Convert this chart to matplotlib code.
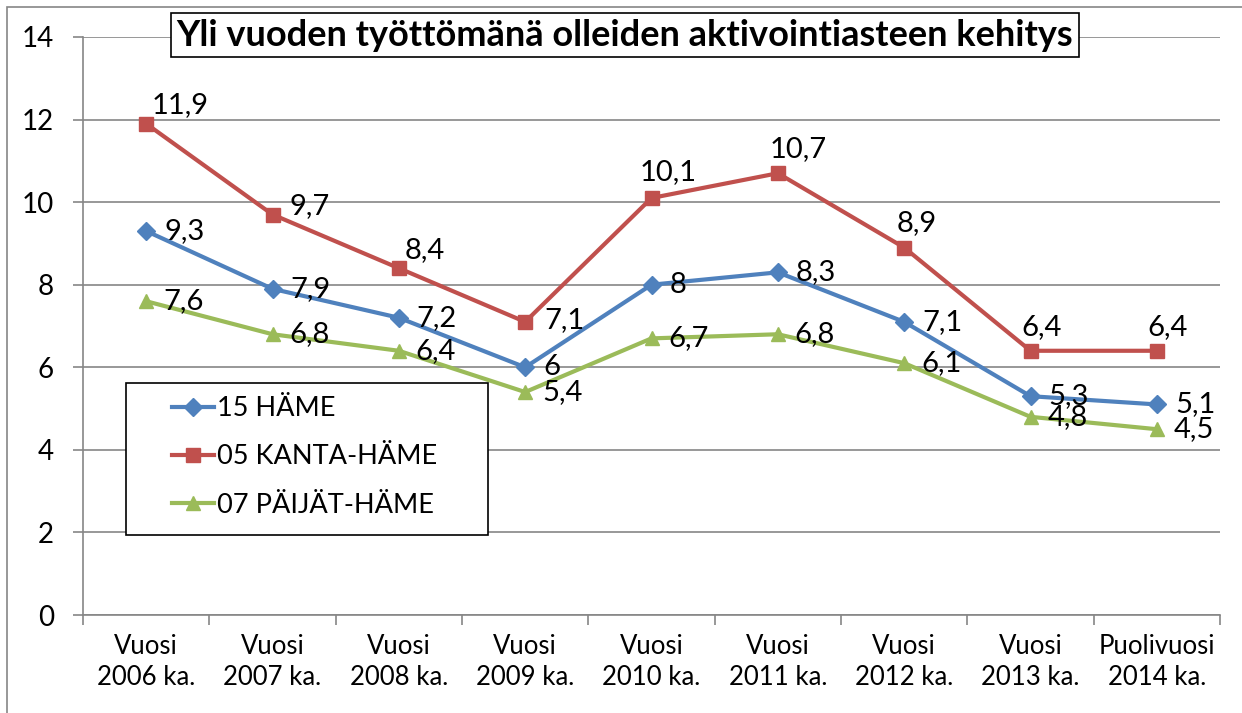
import matplotlib
matplotlib.use("Agg")
from matplotlib import pyplot as plt
from matplotlib.patches import Rectangle
import numpy as np

plt.rcParams['font.family'] = ['Lato', 'DejaVu Sans']

categories = ["Vuosi\n2006 ka.", "Vuosi\n2007 ka.", "Vuosi\n2008 ka.", "Vuosi\n2009 ka.",
              "Vuosi\n2010 ka.", "Vuosi\n2011 ka.", "Vuosi\n2012 ka.", "Vuosi\n2013 ka.",
              "Puolivuosi\n2014 ka."]
hame = [9.3, 7.9, 7.2, 6.0, 8.0, 8.3, 7.1, 5.3, 5.1]
kanta_hame = [11.9, 9.7, 8.4, 7.1, 10.1, 10.7, 8.9, 6.4, 6.4]
paijat_hame = [7.6, 6.8, 6.4, 5.4, 6.7, 6.8, 6.1, 4.8, 4.5]
yticks = [0, 2, 4, 6, 8, 10, 12, 14]
title = "Yli vuoden työttömänä olleiden aktivointiasteen kehitys"

# label offsets in pixels (dx to left edge, dy to centre)
red_offsets = [(5, 19), (17, 8), (6, 18), (19, 2), (-12, 26), (-8, 24), (-8, 25), (-9, 24), (-9, 24)]

W, H = 1242, 713
fig = plt.figure(figsize=(W / 100, H / 100), dpi=100)
ax = fig.add_axes([83 / W, 1 - 615 / H, (1220 - 83) / W, (615 - 37) / H])

grey = '#868686'
fs = 21
x = np.arange(len(categories))

series = [
    (hame, '15 HÄME', '#4F81BD', 'D', 9),
    (kanta_hame, '05 KANTA-HÄME', '#C0504D', 's', 9.5),
    (paijat_hame, '07 PÄIJÄT-HÄME', '#9BBB59', '^', 10.5),
]
for vals, name, col, mk, ms in series:
    ax.plot(x, vals, color=col, lw=3, marker=mk, ms=ms, label=name, zorder=3)

def fmt(v):
    s = ('%.1f' % v).rstrip('0').rstrip('.')
    return s.replace('.', ',')

px = 72 / 100
for i, v in enumerate(hame):
    ax.annotate(fmt(v), (x[i], v), xytext=(18 * px, 0), textcoords='offset points',
                ha='left', va='center', fontsize=fs, zorder=4)
for i, v in enumerate(paijat_hame):
    ax.annotate(fmt(v), (x[i], v), xytext=(17 * px, 0), textcoords='offset points',
                ha='left', va='center', fontsize=fs, zorder=4)
for i, v in enumerate(kanta_hame):
    dx, dy = red_offsets[i]
    ax.annotate(fmt(v), (x[i], v), xytext=(dx * px, dy * px), textcoords='offset points',
                ha='left', va='center', fontsize=fs, zorder=4)

ax.set_xlim(-0.5, len(categories) - 0.5)
ax.set_ylim(0, 14)
ax.set_yticks(yticks)
ax.set_yticklabels([str(t) for t in yticks], fontsize=20)
ax.set_xticks(x)
ax.set_xticklabels(categories, fontsize=18.5, linespacing=1.3)
ax.set_xticks(np.arange(-0.5, len(categories)), minor=True)
ax.tick_params(axis='x', which='major', length=0, pad=14)
ax.tick_params(axis='x', which='minor', length=7, color=grey, width=1.2)
ax.tick_params(axis='y', length=7, color=grey, width=1.2, pad=14)
ax.grid(axis='y', color=grey, lw=1.2)
ax.set_axisbelow(True)
for s in ['top', 'right']:
    ax.spines[s].set_visible(False)
for s in ['left', 'bottom']:
    ax.spines[s].set_color(grey)
    ax.spines[s].set_linewidth(1.2)

# legend box drawn separately so the entries can sit with a wide left margin
fig.patches.append(Rectangle((126 / W, 1 - 535 / H), (488 - 126) / W, (535 - 383) / H,
                             transform=fig.transFigure, fc='white', ec='black', lw=1.2, zorder=4))
leg = fig.legend(loc='upper left', bbox_to_anchor=(172 / W, 1 - 396 / H),
                 fontsize=19.5, frameon=False, handlelength=1.55, handletextpad=0.12,
                 labelspacing=0.86, borderpad=0, borderaxespad=0)
leg.set_zorder(5)

fig.text(625 / W, 1 - 35 / H, title, ha='center', va='center', fontsize=26, fontweight='bold',
         bbox=dict(boxstyle='square,pad=0.15', fc='white', ec='black', lw=1.2), zorder=6)

fig.patches.append(Rectangle((7 / W, -0.1), 1.2, 1 - 7 / H + 0.1, transform=fig.transFigure,
                             fill=False, ec=grey, lw=1.2))

fig.savefig('out.png', dpi=100)
